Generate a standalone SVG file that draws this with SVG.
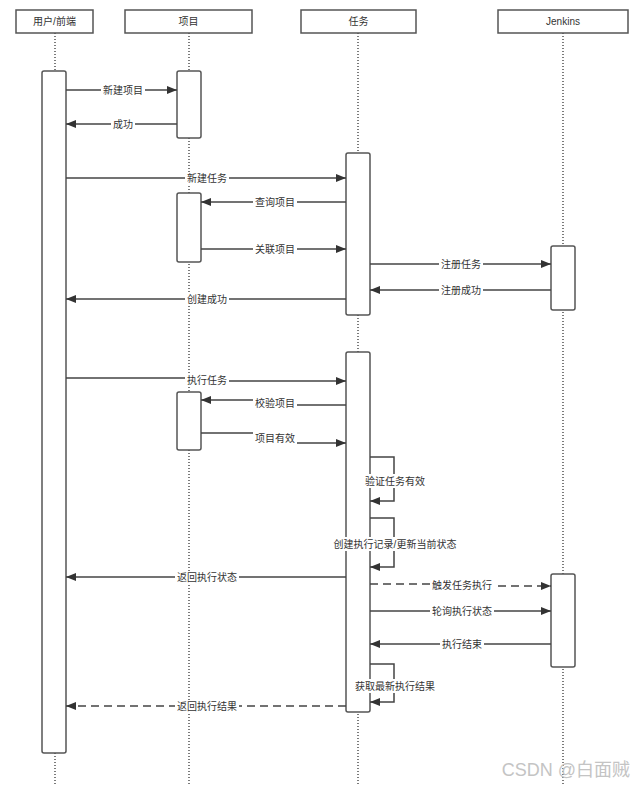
<svg xmlns="http://www.w3.org/2000/svg" width="644" height="785" viewBox="0 0 644 785">
<style>
.hdr{fill:#fff;stroke:#555;stroke-width:1.5}
.life{stroke:#444;stroke-width:1.4;stroke-dasharray:1 2;fill:none}
.act{fill:#fff;stroke:#555;stroke-width:1.5}
.msg{stroke:#444;stroke-width:1.5;fill:none}
.dash{stroke-dasharray:8 5}
.t{font-family:"Liberation Sans","Noto Sans CJK SC",sans-serif;font-size:10px;fill:#333;text-anchor:middle;dominant-baseline:central}
.bg{fill:#fff}
</style>
<defs>
<marker id="ah" viewBox="0 0 10 8" refX="10" refY="4" markerWidth="10" markerHeight="8" markerUnits="userSpaceOnUse" orient="auto">
<path d="M0,0 L10,4 L0,8 Z" fill="#333"/>
</marker>
</defs>
<rect width="644" height="785" fill="#fff"/>

<g id="user">
<line class="life" x1="55" y1="33" x2="55" y2="785"/>
<rect class="hdr" x="16" y="10" width="77" height="23"/>
<text class="t" x="54.5" y="21.5">用户/前端</text>
<rect class="act" x="42" y="71" width="24" height="682" rx="2"/>
</g>

<g id="project">
<line class="life" x1="189" y1="33" x2="189" y2="785"/>
<rect class="hdr" x="125" y="10" width="127" height="23"/>
<text class="t" x="188.5" y="21.5">项目</text>
<rect class="act" x="177" y="71" width="24" height="67" rx="2"/>
<rect class="act" x="177" y="193" width="24" height="69" rx="2"/>
<rect class="act" x="177" y="392" width="24" height="58" rx="2"/>
</g>

<g id="task">
<line class="life" x1="358" y1="33" x2="358" y2="785"/>
<rect class="hdr" x="301" y="10" width="115" height="23"/>
<text class="t" x="358.5" y="21.5">任务</text>
<rect class="act" x="346" y="153" width="24" height="162" rx="2"/>
<rect class="act" x="346" y="352" width="24" height="360" rx="2"/>
</g>

<g id="jenkins">
<line class="life" x1="563" y1="33" x2="563" y2="785"/>
<rect class="hdr" x="498" y="10" width="130" height="23"/>
<text class="t" x="563" y="21.5">Jenkins</text>
<rect class="act" x="551" y="246" width="24" height="64" rx="2"/>
<rect class="act" x="551" y="574" width="24" height="93" rx="2"/>
</g>

<g id="connectors">
<!-- 新建项目 -->
<line class="msg" x1="66" y1="90" x2="177" y2="90" marker-end="url(#ah)"/>
<!-- 成功 -->
<line class="msg" x1="177" y1="124" x2="66" y2="124" marker-end="url(#ah)"/>
<!-- 新建任务 -->
<line class="msg" x1="66" y1="178" x2="346" y2="178" marker-end="url(#ah)"/>
<!-- 查询项目 -->
<line class="msg" x1="346" y1="202" x2="201" y2="202" marker-end="url(#ah)"/>
<!-- 关联项目 -->
<line class="msg" x1="201" y1="249" x2="346" y2="249" marker-end="url(#ah)"/>
<!-- 注册任务 -->
<line class="msg" x1="370" y1="264" x2="551" y2="264" marker-end="url(#ah)"/>
<!-- 注册成功 -->
<line class="msg" x1="551" y1="290" x2="370" y2="290" marker-end="url(#ah)"/>
<!-- 创建成功 -->
<line class="msg" x1="346" y1="299" x2="66" y2="299" marker-end="url(#ah)"/>
<!-- 执行任务 -->
<polyline class="msg" points="66,378 207,378 207,381 346,381" marker-end="url(#ah)"/>
<!-- 校验项目 -->
<polyline class="msg" points="346,405 275,405 275,400 201,400" marker-end="url(#ah)"/>
<!-- 项目有效 -->
<polyline class="msg" points="201,433 275,433 275,443 346,443" marker-end="url(#ah)"/>
<!-- self loops -->
<polyline class="msg" points="370,457 394,457 394,501 370,501" marker-end="url(#ah)"/>
<polyline class="msg" points="370,518 394,518 394,567 370,567" marker-end="url(#ah)"/>
<!-- 返回执行状态 -->
<line class="msg" x1="346" y1="577" x2="66" y2="577" marker-end="url(#ah)"/>
<!-- 触发任务执行 -->
<polyline class="msg dash" points="370,584 462,584 462,586 551,586" marker-end="url(#ah)"/>
<!-- 轮询执行状态 -->
<line class="msg" x1="370" y1="611" x2="551" y2="611" marker-end="url(#ah)"/>
<!-- 执行结束 -->
<line class="msg" x1="551" y1="644" x2="370" y2="644" marker-end="url(#ah)"/>
<!-- 获取最新执行结果 -->
<polyline class="msg" points="370,664 394,664 394,702 370,702" marker-end="url(#ah)"/>
<!-- 返回执行结果 -->
<line class="msg dash" x1="346" y1="706" x2="66" y2="706" marker-end="url(#ah)"/>

<!-- labels -->
<rect class="bg" x="101" y="84" width="44" height="13"/><text class="t" x="123" y="90.5">新建项目</text>
<rect class="bg" x="111" y="118" width="24" height="13"/><text class="t" x="123" y="124.5">成功</text>
<rect class="bg" x="185" y="172" width="44" height="13"/><text class="t" x="207" y="178.5">新建任务</text>
<rect class="bg" x="253" y="196" width="44" height="13"/><text class="t" x="275" y="202.5">查询项目</text>
<rect class="bg" x="253" y="243" width="44" height="13"/><text class="t" x="275" y="249.5">关联项目</text>
<rect class="bg" x="439" y="258" width="44" height="13"/><text class="t" x="461" y="264.5">注册任务</text>
<rect class="bg" x="439" y="284" width="44" height="13"/><text class="t" x="461" y="290.5">注册成功</text>
<rect class="bg" x="185" y="293" width="44" height="13"/><text class="t" x="207" y="299.5">创建成功</text>
<rect class="bg" x="185" y="373" width="44" height="13"/><text class="t" x="207" y="380">执行任务</text>
<rect class="bg" x="253" y="397" width="44" height="13"/><text class="t" x="275" y="403.5">校验项目</text>
<rect class="bg" x="253" y="432" width="44" height="13"/><text class="t" x="275" y="438.5">项目有效</text>
<rect class="bg" x="363" y="474" width="64" height="14"/><text class="t" x="395" y="481">验证任务有效</text>
<rect class="bg" x="330" y="537" width="130" height="14"/><text class="t" x="395" y="544">创建执行记录/更新当前状态</text>
<rect class="bg" x="175" y="571" width="64" height="13"/><text class="t" x="207" y="577.5">返回执行状态</text>
<rect class="bg" x="430" y="579" width="64" height="13"/><text class="t" x="462" y="585.5">触发任务执行</text>
<rect class="bg" x="430" y="605" width="64" height="13"/><text class="t" x="462" y="611.5">轮询执行状态</text>
<rect class="bg" x="440" y="638" width="44" height="13"/><text class="t" x="462" y="644.5">执行结束</text>
<rect class="bg" x="355" y="679" width="80" height="14"/><text class="t" x="395" y="686">获取最新执行结果</text>
<rect class="bg" x="175" y="700" width="64" height="13"/><text class="t" x="207" y="706.5">返回执行结果</text>
</g>

<text x="630" y="776" font-family="'Liberation Sans','Noto Sans CJK SC',sans-serif" font-size="18" fill="#c4c4c4" text-anchor="end">CSDN @白面贼</text>
</svg>
